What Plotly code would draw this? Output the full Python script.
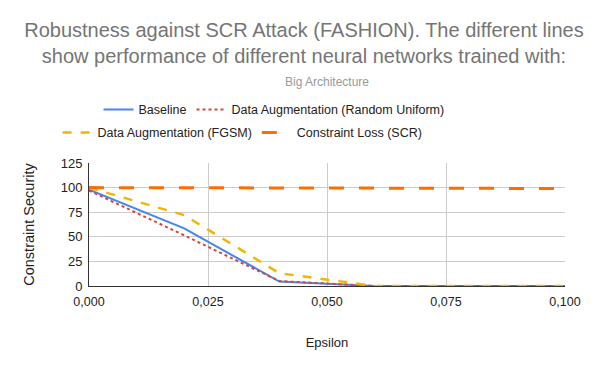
import plotly.graph_objects as go

epsilon = [0.0, 0.02, 0.04, 0.06, 0.08, 0.1]
baseline = [98, 58.5, 4.5, 0, 0, 0]
random_uniform = [97, 51.5, 5, 0, 0, 0]
fgsm = [100, 72, 13, 0, 0, 0]
scr = [100, 100, 100, 99.6, 99.3, 99]

names = ["Baseline", "Data Augmentation (Random Uniform)",
         "Data Augmentation (FGSM)", "Constraint Loss (SCR)"]

fig = go.Figure()
fig.add_trace(go.Scatter(x=epsilon, y=baseline, name=names[0], mode="lines",
                         line=dict(color="#4285F4", width=2), legend="legend"))
fig.add_trace(go.Scatter(x=epsilon, y=random_uniform, name=names[1], mode="lines",
                         line=dict(color="#DB4437", width=2, dash="dot"), legend="legend"))
fig.add_trace(go.Scatter(x=epsilon, y=fgsm, name=names[2], mode="lines",
                         line=dict(color="#F4B400", width=2.5, dash="dash"), legend="legend2"))
fig.add_trace(go.Scatter(x=epsilon, y=scr, name=names[3], mode="lines",
                         line=dict(color="#FF6D01", width=3, dash="longdash"), legend="legend2"))

font = "Liberation Sans, Arial, sans-serif"
H = 363
fig.update_layout(
    width=592, height=H,
    paper_bgcolor="white", plot_bgcolor="white",
    separators=",.",
    margin=dict(l=81, r=35, t=155, b=85),
    font=dict(family=font, size=12, color="#444"),
    title=dict(text="Robustness against SCR Attack (FASHION). The different lines<br>show performance of different neural networks trained with:",
               x=0.5, xanchor="center", y=1 - 29 / H, yanchor="middle",
               font=dict(size=20, color="#757575", family=font)),
    legend=dict(orientation="h", x=0.02, xanchor="left", y=1.431, yanchor="middle",
                yref="paper", font=dict(size=12.5, color="#222"), bgcolor="rgba(0,0,0,0)",
                itemwidth=30),
    legend2=dict(orientation="h", x=-0.066, xanchor="left", y=1.244, yanchor="middle",
                 yref="paper", font=dict(size=12.5, color="#222"), bgcolor="rgba(0,0,0,0)",
                 itemwidth=30),
    annotations=[dict(text="Big Architecture", x=0.5, xref="paper", xanchor="center",
                      y=1.6585, yref="paper", yanchor="middle", showarrow=False,
                      font=dict(size=12, color="#999", family=font))],
    xaxis=dict(range=[0, 0.1], dtick=0.025, tickformat=".3f", showgrid=True,
               gridcolor="#ccc", zeroline=False, showline=True, linecolor="#333",
               linewidth=1, ticks="", automargin=False, ticklabelstandoff=4,
               tickfont=dict(size=12.5, color="#222"),
               title=dict(text="Epsilon", font=dict(size=13, color="#222"), standoff=29)),
    yaxis=dict(range=[0, 125], dtick=25, showgrid=True, gridcolor="#ccc",
               zeroline=False, showline=True, linecolor="#333", linewidth=1,
               ticks="", automargin=False, ticklabelstandoff=3,
               tickfont=dict(size=13, color="#222"),
               title=dict(text="Constraint Security", font=dict(size=14.5, color="#222"), standoff=22)),
)

fig.write_html("out.html")
